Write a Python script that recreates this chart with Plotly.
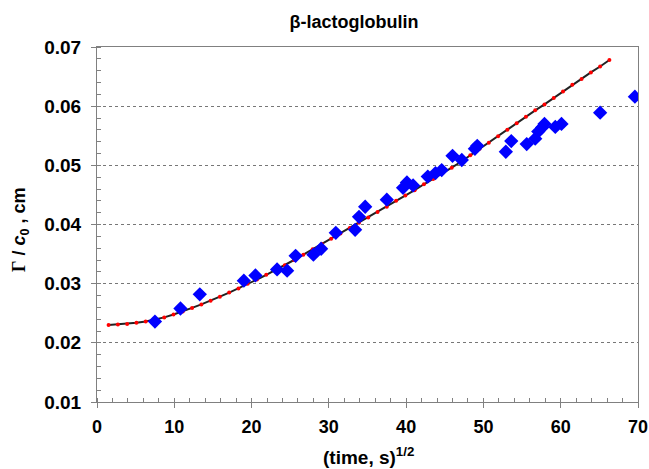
import plotly.graph_objects as go

# Measured data (blue diamonds)
data_x = [7.5, 10.8, 13.3, 19.0, 20.5, 23.3, 24.6, 25.7, 28.0, 29.0, 30.9, 33.4, 33.9, 34.7,
          37.5, 39.6, 40.1, 40.9, 42.8, 43.8, 44.6, 46.0, 47.2, 48.9, 49.2, 52.9, 53.6,
          55.6, 56.7, 57.1, 57.6, 57.9, 59.3, 60.1, 65.1, 69.6]
data_y = [0.0236, 0.0258, 0.0282, 0.0305, 0.0314, 0.0324, 0.0322, 0.0347, 0.0349, 0.0359,
          0.0386, 0.0391, 0.0413, 0.0430, 0.0442, 0.0462, 0.0471, 0.0466, 0.0481, 0.0487,
          0.0492, 0.0516, 0.0509, 0.0528, 0.0533, 0.0523, 0.0541, 0.0536, 0.0545, 0.0557,
          0.0564, 0.0570, 0.0565, 0.0570, 0.0589, 0.0616]

# Model curve (black line with red dots)
fit_x = [1.5, 2.7, 3.9, 5.1, 6.3, 7.5, 8.7, 9.9, 11.1, 12.3, 13.5, 14.7, 15.9, 17.1, 18.3,
         19.5, 20.7, 21.9, 23.1, 24.3, 25.5, 26.7, 27.9, 29.1, 30.3, 31.5, 32.7, 33.9, 35.1,
         36.3, 37.5, 38.7, 39.9, 41.1, 42.3, 43.5, 44.7, 45.9, 47.1, 48.3, 49.5, 50.7, 51.9,
         53.1, 54.3, 55.5, 56.7, 57.9, 59.1, 60.3, 61.5, 62.7, 63.9, 65.1, 66.3]
fit_y = [0.0230, 0.0231, 0.0232, 0.0234, 0.0236, 0.0239, 0.0243, 0.0248, 0.0253, 0.0259,
         0.0265, 0.0271, 0.0278, 0.0285, 0.0292, 0.0300, 0.0307, 0.0315, 0.0323, 0.0331,
         0.0340, 0.0349, 0.0358, 0.0367, 0.0376, 0.0385, 0.0394, 0.0403, 0.0412, 0.0421,
         0.0430, 0.0440, 0.0449, 0.0458, 0.0468, 0.0477, 0.0487, 0.0496, 0.0506, 0.0517,
         0.0528, 0.0538, 0.0549, 0.0560, 0.0571, 0.0582, 0.0593, 0.0603, 0.0614, 0.0625,
         0.0636, 0.0646, 0.0657, 0.0667, 0.0678]

x_ticks = [0, 10, 20, 30, 40, 50, 60, 70]
y_ticks = [0.01, 0.02, 0.03, 0.04, 0.05, 0.06, 0.07]

font_family = "Liberation Sans, Arial, sans-serif"

W, H = 649, 469
L, R, T, B = 97, 11, 47, 67
pw, ph = W - L - R, H - T - B

fig = go.Figure()
fig.add_trace(go.Scatter(
    x=fit_x, y=fit_y, mode="lines+markers",
    line=dict(color="#222222", width=2),
    marker=dict(color="#ff0000", size=4, symbol="circle"),
    hoverinfo="skip"))
fig.add_trace(go.Scatter(
    x=data_x, y=data_y, mode="markers",
    marker=dict(color="#0000ff", size=11, symbol="diamond",
                line=dict(width=0))))

fig.update_layout(
    width=W, height=H,
    margin=dict(l=L, r=R, t=T, b=B, autoexpand=False),
    paper_bgcolor="white", plot_bgcolor="white",
    showlegend=False,
    font=dict(family=font_family, color="black"),
    title=dict(text="<b>β-lactoglobulin</b>", x=354 / W, xanchor="center",
               y=1 - 22 / H, yanchor="middle",
               font=dict(size=18, family=font_family)),
)

fig.update_xaxes(
    range=[0, 70], tickvals=x_ticks, ticktext=[f"<b>{v}</b>" for v in x_ticks],
    tickfont=dict(size=18), showgrid=False, zeroline=False, automargin=False,
    showline=True, linecolor="#808080", linewidth=1, mirror=True,
    ticks="outside", ticklen=5, tickcolor="#808080", ticklabelstandoff=3,
    ticklabeloverflow="allow",
    minor=dict(dtick=2, ticks="inside", ticklen=4, tickcolor="#808080", showgrid=False),
)
fig.update_yaxes(
    range=[0.01, 0.07], tickvals=y_ticks, ticktext=[f"<b>{v:.2f}</b>" for v in y_ticks],
    tickfont=dict(size=19), showgrid=True, gridcolor="#777777", griddash="dot", gridwidth=1,
    zeroline=False, automargin=False,
    showline=True, linecolor="#808080", linewidth=1, mirror=True,
    ticks="outside", ticklen=5, tickcolor="#808080", ticklabelstandoff=6,
    ticklabeloverflow="allow",
    minor=dict(dtick=0.002, tick0=0.01, ticks="inside", ticklen=4, tickcolor="#808080", showgrid=False),
)

# axis titles as annotations for precise placement
fig.add_annotation(
    text="<b>(time, s)<sup>1/2</sup></b>", xref="paper", yref="paper",
    x=(368 - L) / pw, y=(H - B - 456) / ph, xanchor="center", yanchor="middle",
    showarrow=False, font=dict(size=19))
fig.add_annotation(
    text="<b><span style='font-family:Liberation Serif, Times New Roman, serif'>Γ</span> / <i>c</i><sub>0</sub> , cm</b>",
    xref="paper", yref="paper",
    x=(20 - L) / pw, y=(H - B - 230) / ph, xanchor="center", yanchor="middle",
    textangle=-90, showarrow=False, font=dict(size=18))

fig.write_html("out.html", config={"displayModeBar": False},
               post_script="document.body.style.margin='0';document.body.style.padding='0';")
